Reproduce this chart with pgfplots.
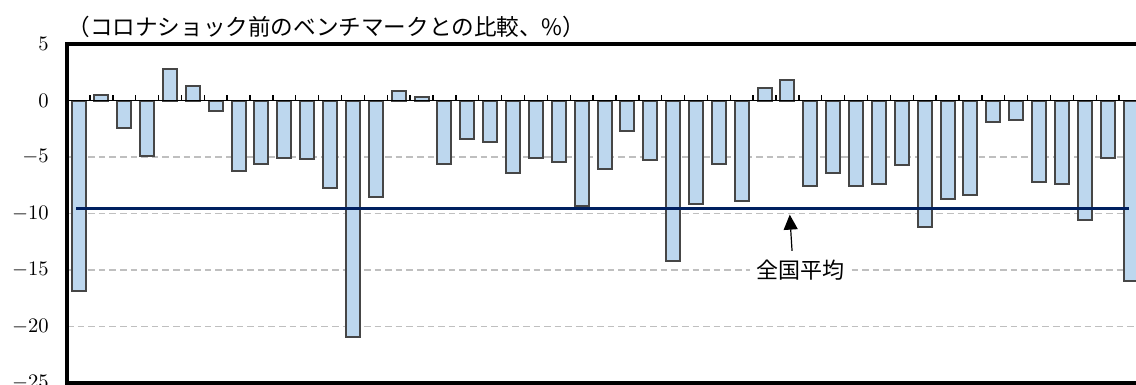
\RequirePackage{fix-cm}
\documentclass[border=0pt]{standalone}
\usepackage[no-math]{fontspec}
\usepackage{pgfplots}
\pgfplotsset{compat=1.18}
\usetikzlibrary{arrows.meta}
\newfontfamily\jp{Noto Sans CJK JP}
\definecolor{barfill}{HTML}{BDD7EE}
\definecolor{baredge}{HTML}{464646}
\definecolor{navy}{HTML}{002060}
\definecolor{gridc}{HTML}{BFBFBF}
\pgfplotstableread{
x y
1 -16.9
2 0.5
3 -2.4
4 -4.9
5 2.8
6 1.3
7 -0.9
8 -6.2
9 -5.6
10 -5.1
11 -5.2
12 -7.7
13 -20.9
14 -8.5
15 0.8
16 0.3
17 -5.6
18 -3.4
19 -3.7
20 -6.4
21 -5.1
22 -5.4
23 -9.3
24 -6.1
25 -2.7
26 -5.3
27 -14.2
28 -9.2
29 -5.6
30 -8.9
31 1.1
32 1.8
33 -7.6
34 -6.4
35 -7.6
36 -7.4
37 -5.7
38 -11.2
39 -8.7
40 -8.4
41 -1.9
42 -1.7
43 -7.2
44 -7.4
45 -10.6
46 -5.1
47 -16.0
}\datatable
\begin{document}
\begin{tikzpicture}
\begin{axis}[
  scale only axis, width=534.45pt, height=169.5pt,
  xmin=0.5, xmax=47.24, ymin=-25, ymax=5,
  ytick={-25,-20,...,5},
  xtick=\empty,
  axis line style={draw=none},
  ytick pos=left, major tick length=0pt,
  ytick style={draw=none},
  yticklabel style={font=\fontsize{10.3}{12}\selectfont, inner sep=0pt, xshift=-9pt},
  ymajorgrids=true,
  major grid style={gridc, dash pattern=on 3.3pt off 2pt, line width=0.8pt},
  clip=false,
]
\addplot[ybar, bar width=7pt, fill=barfill, draw=baredge, line width=1pt] table[x=x, y=y] {\datatable};
\draw[line width=0.9pt] (axis cs:0.5,0) -- (axis cs:47.24,0);
\pgfplotsinvokeforeach{1.5,2.5,...,46.5}{\draw[line width=0.7pt] (axis cs:#1,0) -- ([yshift=2.6pt]axis cs:#1,0);}
\addplot[navy, line width=1.5pt, no marks] coordinates {(0.9,-9.6) (46.95,-9.6)};
\draw[line width=2.3pt] (rel axis cs:1,1) -- (rel axis cs:0,1) -- (rel axis cs:0,0) -- (rel axis cs:1,0);
\node[fill=white, inner xsep=3pt, inner ysep=1pt, font=\jp\fontsize{11}{13}\selectfont] at (axis cs:32.55,-15) {全国平均};
\draw[-{Triangle[length=7.5pt,width=7pt]}, line width=0.6pt] (axis cs:32.2,-13.3) -- (axis cs:32.1,-10.1);
\node[anchor=west, inner sep=0pt, font=\jp\fontsize{11.3}{13}\selectfont] at ([xshift=0pt, yshift=8.5pt]rel axis cs:0,1) {（コロナショック前のベンチマークとの比較、\%）};
\coordinate (BL) at (rel axis cs:0,0);
\coordinate (TR) at (rel axis cs:1,1);
\end{axis}
\pgfresetboundingbox
\path[use as bounding box] ([xshift=-33.55pt,yshift=-1pt]BL) rectangle ([yshift=22pt]TR);
\end{tikzpicture}
\end{document}
